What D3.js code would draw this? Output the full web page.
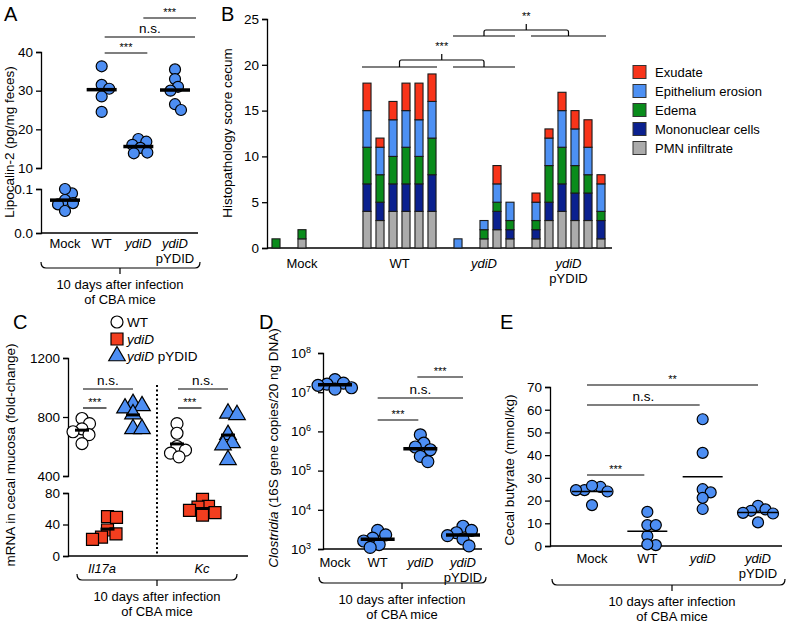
<!DOCTYPE html>
<html>
<head>
<meta charset="utf-8">
<script src="https://d3js.org/d3.v7.min.js"></script>
<style>
  body { margin: 0; background: #fff; }
  text { font-family: "Liberation Sans", Arial, sans-serif; }
</style>
</head>
<body>
<svg id="fig" width="800" height="629"></svg>
<script>
// ---------- data ----------
const cats = ["Mock", "WT", "ydiD", "ydiD pYDID"];

// A: lipocalin-2 (pg/mg feces)
const lcnMock = [0.09, 0.1, 0.075, 0.065, 0.05, 0.068];
const lcnWT = [36.3, 31.5, 30.5, 28.5, 24.5];
const lcnYdiD = [17.5, 16.8, 16.0, 15.2, 14.0, 13.8];
const lcnPYDID = [35.5, 33, 31, 30, 26.5, 25];

// B: histopathology score per mouse (Mock 5, WT 6, ydiD 5, ydiD pYDID 6)
const groupSizes = [5, 6, 5, 6];
const pmn   = [0,0,1,0,0, 4,3,4,4,4,4, 0,0,1,2,1, 1,3,4,3,3,1];
const mono  = [0,0,0,0,0, 3,2,3,3,3,4, 0,0,0,2,1, 1,2,3,3,3,2];
const edema = [1,0,1,0,0, 4,3,3,4,3,4, 0,0,1,1,1, 1,4,4,3,2,1];
const epi   = [0,0,0,0,0, 4,3,4,4,4,4, 1,0,1,2,2, 2,3,4,4,3,3];
const exu   = [0,0,0,0,0, 3,1,2,3,4,3, 0,0,0,2,0, 1,1,2,2,3,1];
const scoreNames = ["PMN infiltrate", "Mononuclear cells", "Edema", "Epithelium erosion", "Exudate"];
const scoreColors = ["#ababab", "#0b218f", "#0a8c1c", "#4d90f3", "#f8341a"];

// C: mRNA fold change
const genes = ["Il17a", "Kc"];
const il17aWT = [790, 755, 720, 700, 680, 620];
const il17aYdiD = [50, 49, 33, 28, 24, 21];
const il17aPYDID = [890, 875, 860, 820, 720, 720];
const kcWT = [755, 690, 600, 575, 555, 530];
const kcYdiD = [72, 63, 62, 58, 55, 52];
const kcPYDID = [825, 815, 680, 625, 610, 510];

// D: Clostridia 16S copies
const cloMock = [2.1e7, 1.7e7, 1.6e7, 1.5e7, 1.3e7, 1.2e7];
const cloWT = [3.0e3, 2.3e3, 1.9e3, 1.6e3, 1.3e3, 1.1e3];
const cloYdiD = [8.2e5, 5.0e5, 4.0e5, 3.4e5, 2.3e5, 1.7e5];
const cloPYDID = [3.8e3, 3.0e3, 2.6e3, 2.2e3, 1.8e3, 1.2e3];

// E: cecal butyrate (mmol/kg)
const butMock = [26, 24.6, 24, 24.6, 26.5, 18];
const butWT = [15, 9.2, 9.2, 4.4, 0.4, 0.7];
const butYdiD = [55.8, 41, 25, 23.6, 21.2, 16.3];
const butPYDID = [17.7, 16.1, 15.5, 14.6, 14.3, 10.4];

const dotBlue = "#4d8ef3";
const FS = 13;
const svg = d3.select("#fig");

// ---------- helpers ----------
function swarm(ys, r) {
  const placed = [], out = new Array(ys.length);
  const order = d3.range(ys.length).sort((a, b) => ys[a] - ys[b]);
  for (const i of order) {
    let best = 0;
    search:
    for (let k = 0; k < 80; k++) {
      const cands = k === 0 ? [0] : [k * 0.5, -k * 0.5];
      for (const dx of cands) {
        if (placed.every(p => (p.x - dx) ** 2 + (p.y - ys[i]) ** 2 >= (1.5 * r) ** 2)) { best = dx; break search; }
      }
    }
    out[i] = best;
    placed.push({x: best, y: ys[i]});
  }
  return out;
}

function dots(g, cx, ys, r, fill, shape) {
  const dx = swarm(ys, r);
  ys.forEach((y, i) => {
    if (!shape) {
      g.append("circle").attr("cx", cx + dx[i]).attr("cy", y).attr("r", r)
        .attr("fill", fill).attr("stroke", "#000").attr("stroke-width", 1.2);
    } else {
      g.append("path").attr("d", d3.symbol(shape, shape === d3.symbolSquare ? 4 * r * r : 3.3 * r * r)())
        .attr("transform", `translate(${cx + dx[i]},${y})`)
        .attr("fill", fill).attr("stroke", "#000").attr("stroke-width", 1.2);
    }
  });
}

function meanLine(g, cx, y, half, w) {
  g.append("line").attr("x1", cx - half).attr("x2", cx + half).attr("y1", y).attr("y2", y)
    .attr("stroke", "#000").attr("stroke-width", w);
}

function sig(g, x1, x2, y, label) {
  g.append("line").attr("x1", x1).attr("x2", x2).attr("y1", y).attr("y2", y)
    .attr("stroke", "#000").attr("stroke-width", 1.2);
  g.append("text").attr("x", (x1 + x2) / 2).attr("y", label === "n.s." ? y - 4 : y - 2)
    .attr("text-anchor", "middle").attr("font-size", label === "n.s." ? 13.5 : 11).text(label);
}

function bottomBracket(x1, x2, y, tx, lines) {
  const mid = tx;
  svg.append("path")
    .attr("d", `M${x1},${y - 6} Q${x1},${y} ${x1 + 5},${y} L${x2 - 5},${y} Q${x2},${y} ${x2},${y - 6} M${mid},${y} L${mid},${y + 6}`)
    .attr("fill", "none").attr("stroke", "#000").attr("stroke-width", 1.2);
  lines.forEach((t, i) => {
    svg.append("text").attr("x", mid).attr("y", y + 21 + i * 15).attr("text-anchor", "middle")
      .attr("font-size", FS).text(t);
  });
}

function catLabel(x, y, name, dy) {
  const t = svg.append("text").attr("x", x).attr("y", y).attr("text-anchor", "middle").attr("font-size", FS);
  if (name === "ydiD") t.attr("font-style", "italic").text("ydiD");
  else if (name === "ydiD pYDID") {
    t.attr("font-style", "italic").text("ydiD");
    svg.append("text").attr("x", x).attr("y", y + (dy || 15)).attr("text-anchor", "middle").attr("font-size", FS).text("pYDID");
  } else t.text(name);
}

function styleAxis(g) {
  g.selectAll("path.domain").attr("stroke", "#000").attr("stroke-width", 1.3);
  g.selectAll(".tick line").attr("stroke", "#000").attr("stroke-width", 1.3);
  g.selectAll(".tick text").attr("font-size", 13.5).attr("fill", "#000")
    .attr("font-family", "'Liberation Sans', Arial, sans-serif");
}

function yLabel(x, y, text) {
  return svg.append("text").attr("transform", `translate(${x},${y}) rotate(-90)`)
    .attr("text-anchor", "middle").attr("font-size", 13.5).text(text);
}

function panelLetter(x, y, s) {
  svg.append("text").attr("x", x).attr("y", y).attr("font-size", 20).text(s);
}

// ---------- Panel A ----------
{
  const g = svg.append("g");
  const x = d3.scalePoint().domain(cats).range([65, 175]);
  const yHi = d3.scaleLinear().domain([10, 40]).range([168, 52]);
  const yLo = d3.scaleLinear().domain([0, 0.1]).range([233, 189]);
  const ax1 = g.append("g").attr("transform", "translate(41,0)")
    .call(d3.axisLeft(yHi).tickValues([10, 20, 30, 40]).tickSizeOuter(0).tickSize(5));
  const ax2 = g.append("g").attr("transform", "translate(41,0)")
    .call(d3.axisLeft(yLo).tickValues([0, 0.1]).tickFormat(d3.format(".1f")).tickSizeOuter(0).tickSize(5));
  styleAxis(ax1); styleAxis(ax2);
  g.append("line").attr("x1", 41).attr("x2", 198).attr("y1", yLo(0)).attr("y2", yLo(0))
    .attr("stroke", "#000").attr("stroke-width", 1.3);
  const sets = [[lcnMock, yLo], [lcnWT, yHi], [lcnYdiD, yHi], [lcnPYDID, yHi]];
  sets.forEach(([vals, s], i) => {
    const cx = x(cats[i]);
    dots(g, cx, vals.map(s), 5.5, dotBlue);
    meanLine(g, cx, s(d3.mean(vals)), 15, 3.5);
  });
  cats.forEach(c => catLabel(x(c), 248, c, 15));
  sig(g, x("WT") + 3, x("ydiD") + 9, 53, "***");
  sig(g, x("WT") + 3, x("ydiD pYDID") + 20, 37, "n.s.");
  sig(g, x("ydiD") + 5, x("ydiD pYDID") + 21, 18, "***");
  yLabel(14, 142, "Lipocalin-2 (pg/mg feces)");
  bottomBracket(41, 200, 268, 120, ["10 days after infection", "of CBA mice"]);
  panelLetter(4, 21, "A");
}

// ---------- Panel B ----------
{
  const g = svg.append("g");
  const gaps = [2, 1, 1];
  const slots = [], mouseSlot = [], groupOf = [];
  let m = 0;
  groupSizes.forEach((n, gi) => {
    for (let k = 0; k < n; k++) { slots.push("m" + m); mouseSlot.push("m" + m); groupOf.push(gi); m++; }
    if (gi < gaps.length) for (let k = 0; k < gaps[gi]; k++) slots.push("g" + gi + "_" + k);
  });
  const x = d3.scaleBand().domain(slots).range([269.5, 607.5]).paddingInner(0.38).paddingOuter(0.19);
  const y = d3.scaleLinear().domain([0, 25]).range([248, 19]);
  const ax = g.append("g").attr("transform", "translate(267,0)")
    .call(d3.axisLeft(y).tickValues([0, 5, 10, 15, 20, 25]).tickSizeOuter(0).tickSize(5));
  styleAxis(ax);
  g.append("line").attr("x1", 267).attr("x2", 612).attr("y1", y(0)).attr("y2", y(0))
    .attr("stroke", "#000").attr("stroke-width", 1.3);

  const table = mouseSlot.map((id, i) => ({id, c0: pmn[i], c1: mono[i], c2: edema[i], c3: epi[i], c4: exu[i]}));
  const stack = d3.stack().keys(["c0", "c1", "c2", "c3", "c4"])(table);
  stack.forEach((layer, li) => {
    g.append("g").selectAll("rect").data(layer.filter(d => d[1] > d[0])).enter().append("rect")
      .attr("x", d => x(d.data.id)).attr("width", x.bandwidth())
      .attr("y", d => y(d[1])).attr("height", d => y(d[0]) - y(d[1]))
      .attr("fill", scoreColors[li]).attr("stroke", "#1a1a1a").attr("stroke-width", 1.1);
  });

  // group extents
  const ext = groupSizes.map((n, gi) => {
    const ids = mouseSlot.filter((id, i) => groupOf[i] === gi);
    return [x(ids[0]), x(ids[ids.length - 1]) + x.bandwidth()];
  });
  ext.forEach((e, gi) => catLabel((e[0] + e[1]) / 2, 268, cats[gi]));

  function brace(a, b, yl, yb, label) {
    const [a1, a2] = [ext[a][0] - 1, ext[a][1] + 1];
    const [b1, b2] = [ext[b][0] - 1, ext[b][1] + 1];
    const ma = (a1 + a2) / 2, mb = (b1 + b2) / 2, mc = (ma + mb) / 2;
    g.append("path")
      .attr("d", `M${a1},${yl} L${a2},${yl} M${b1},${yl} L${b2},${yl} M${ma},${yl} L${ma},${yb + 2} Q${ma},${yb} ${ma + 2},${yb} L${mb - 2},${yb} Q${mb},${yb} ${mb},${yb + 2} L${mb},${yl} M${mc},${yb} L${mc},${yb - 6}`)
      .attr("fill", "none").attr("stroke", "#000").attr("stroke-width", 1.2);
    g.append("text").attr("x", mc).attr("y", yb - 10).attr("text-anchor", "middle").attr("font-size", 11).text(label);
  }
  brace(1, 2, 67, 60, "***");
  brace(2, 3, 36, 30, "**");

  yLabel(232, 133, "Histopathology score cecum");
  panelLetter(221, 21, "B");

  // legend
  const legOrder = [4, 3, 2, 1, 0];
  legOrder.forEach((li, k) => {
    const yy = 72 + k * 19;
    svg.append("rect").attr("x", 633).attr("y", yy - 6.5).attr("width", 13).attr("height", 13)
      .attr("fill", scoreColors[li]).attr("stroke", "#333").attr("stroke-width", 1);
    svg.append("text").attr("x", 655).attr("y", yy + 5).attr("font-size", 13).text(scoreNames[li]);
  });
}

// ---------- Panel C ----------
{
  const g = svg.append("g");
  const xg = d3.scalePoint().domain(genes).range([107, 202]);
  const off = d3.scalePoint().domain(["WT", "ydiD", "pYDID"]).range([-25, 26]);
  const yHi = d3.scaleLinear().domain([400, 1200]).range([476, 358]);
  const yLo = d3.scaleLinear().domain([0, 80]).range([556, 493]);
  const ax1 = g.append("g").attr("transform", "translate(68,0)")
    .call(d3.axisLeft(yHi).tickValues([400, 800, 1200]).tickFormat(d3.format("d")).tickSizeOuter(0).tickSize(5));
  const ax2 = g.append("g").attr("transform", "translate(68,0)")
    .call(d3.axisLeft(yLo).tickValues([0, 40, 80]).tickSizeOuter(0).tickSize(5));
  styleAxis(ax1); styleAxis(ax2);
  g.append("line").attr("x1", 68).attr("x2", 248).attr("y1", yLo(0)).attr("y2", yLo(0))
    .attr("stroke", "#000").attr("stroke-width", 1.3);
  g.append("line").attr("x1", 157).attr("x2", 157).attr("y1", 385).attr("y2", yLo(0))
    .attr("stroke", "#000").attr("stroke-width", 2).attr("stroke-dasharray", "2,2.5");

  const sets = [
    ["Il17a", "WT", il17aWT, yHi], ["Il17a", "ydiD", il17aYdiD, yLo], ["Il17a", "pYDID", il17aPYDID, yHi],
    ["Kc", "WT", kcWT, yHi], ["Kc", "ydiD", kcYdiD, yLo], ["Kc", "pYDID", kcPYDID, yHi]
  ];
  const look = {WT: ["#fff", null], ydiD: ["#f23e1f", d3.symbolSquare], pYDID: [dotBlue, d3.symbolTriangle]};
  sets.forEach(([gene, grp, vals, s]) => {
    const cx = xg(gene) + off(grp);
    dots(g, cx, vals.map(s), 6, look[grp][0], look[grp][1]);
    meanLine(g, cx, s(d3.mean(vals)), 7, 3);
  });
  genes.forEach(gn => svg.append("text").attr("x", xg(gn) + (gn === "Il17a" ? -5 : 0)).attr("y", 573)
    .attr("text-anchor", "middle").attr("font-size", FS).attr("font-style", "italic").text(gn));
  genes.forEach(gn => {
    sig(g, xg(gn) + off("WT") + 1, xg(gn) + off("ydiD") - 1, 408, "***");
    sig(g, xg(gn) + off("WT") + 1, xg(gn) + off("pYDID"), 389, "n.s.");
  });

  // legend
  const lg = svg.append("g");
  lg.append("circle").attr("cx", 117).attr("cy", 322).attr("r", 6).attr("fill", "#fff").attr("stroke", "#000").attr("stroke-width", 1.2);
  lg.append("path").attr("d", d3.symbol(d3.symbolSquare, 144)()).attr("transform", "translate(117,339)")
    .attr("fill", "#f23e1f").attr("stroke", "#000").attr("stroke-width", 1.2);
  lg.append("path").attr("d", d3.symbol(d3.symbolTriangle, 118)()).attr("transform", "translate(117,356)")
    .attr("fill", dotBlue).attr("stroke", "#000").attr("stroke-width", 1.2);
  lg.append("text").attr("x", 127).attr("y", 327).attr("font-size", 13.5).text("WT");
  lg.append("text").attr("x", 127).attr("y", 344).attr("font-size", 13.5).attr("font-style", "italic").text("ydiD");
  const t3 = lg.append("text").attr("x", 127).attr("y", 361).attr("font-size", 13.5);
  t3.append("tspan").attr("font-style", "italic").text("ydiD");
  t3.append("tspan").text(" pYDID");

  yLabel(15, 455, "mRNA in cecal mucosa (fold-change)");
  bottomBracket(77, 237, 580, 157, ["10 days after infection", "of CBA mice"]);
  panelLetter(13, 329, "C");
}

// ---------- Panel D ----------
{
  const g = svg.append("g");
  const x = d3.scalePoint().domain(cats).range([335, 463]);
  const y = d3.scaleLog().domain([1e3, 1e8]).range([549, 353]);
  const ax = g.append("g").attr("transform", "translate(323,0)")
    .call(d3.axisLeft(y).tickValues([1e3, 1e4, 1e5, 1e6, 1e7, 1e8]).tickFormat(() => "").tickSizeOuter(0).tickSize(5));
  styleAxis(ax);
  ax.selectAll(".tick text").each(function(d) {
    const t = d3.select(this).attr("dx", "-0.3em");
    t.append("tspan").text("10");
    t.append("tspan").attr("dy", "-0.55em").attr("font-size", 9).text(Math.round(Math.log10(d)));
  });
  g.append("line").attr("x1", 323).attr("x2", 482).attr("y1", y(1e3)).attr("y2", y(1e3))
    .attr("stroke", "#000").attr("stroke-width", 1.3);
  const sets = [cloMock, cloWT, cloYdiD, cloPYDID];
  sets.forEach((vals, i) => {
    const cx = x(cats[i]);
    dots(g, cx, vals.map(y), 6, dotBlue);
    meanLine(g, cx, y(Math.pow(10, d3.mean(vals, v => Math.log10(v)))), 17, 3.5);
  });
  cats.forEach(c => catLabel(x(c), 567, c));
  sig(g, x("WT"), x("ydiD") - 2, 420, "***");
  sig(g, x("WT"), x("ydiD pYDID"), 398, "n.s.");
  sig(g, x("ydiD") - 3, x("ydiD pYDID"), 377, "***");
  const lab = svg.append("text").attr("transform", "translate(278,448) rotate(-90)")
    .attr("text-anchor", "middle").attr("font-size", 13.5);
  lab.append("tspan").attr("font-style", "italic").text("Clostridia");
  lab.append("tspan").text(" (16S gene copies/20 ng DNA)");
  bottomBracket(319, 486, 583, 402, ["10 days after infection", "of CBA mice"]);
  panelLetter(259, 329, "D");
}

// ---------- Panel E ----------
{
  const g = svg.append("g");
  const x = d3.scalePoint().domain(cats).range([592, 758]);
  const y = d3.scaleLinear().domain([0, 70]).range([546, 387]);
  const ax = g.append("g").attr("transform", "translate(550,0)")
    .call(d3.axisLeft(y).tickValues(d3.range(0, 71, 10)).tickSizeOuter(0).tickSize(5));
  styleAxis(ax);
  g.append("line").attr("x1", 550).attr("x2", 782).attr("y1", y(0)).attr("y2", y(0))
    .attr("stroke", "#000").attr("stroke-width", 1.3);
  const sets = [butMock, butWT, butYdiD, butPYDID];
  sets.forEach((vals, i) => {
    const cx = x(cats[i]);
    dots(g, cx, vals.map(y), 5.5, dotBlue);
    meanLine(g, cx, y(d3.mean(vals)), 20, 1.5);
  });
  cats.forEach(c => catLabel(x(c), 563, c, 15));
  sig(g, x("Mock") - 5, x("WT") - 3, 475, "***");
  sig(g, x("Mock") - 5, x("ydiD") - 3, 405, "n.s.");
  sig(g, x("Mock") - 5, x("ydiD pYDID"), 385, "**");
  yLabel(514, 470, "Cecal butyrate (mmol/kg)");
  bottomBracket(552, 785, 585, 672, ["10 days after infection", "of CBA mice"]);
  panelLetter(500, 329, "E");
}
</script>
</body>
</html>
